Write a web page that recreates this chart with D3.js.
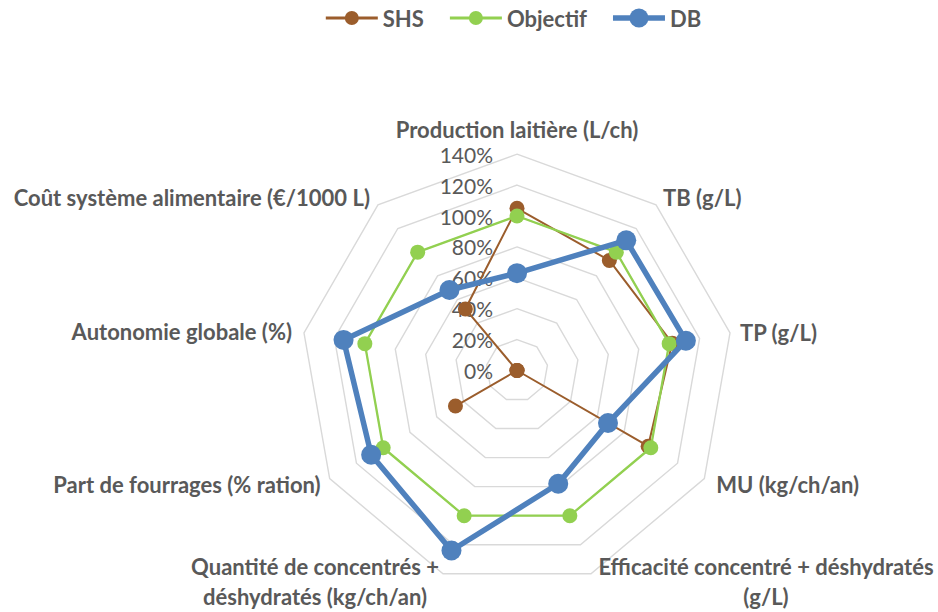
<!DOCTYPE html>
<html>
<head>
<meta charset="utf-8">
<script src="https://cdn.jsdelivr.net/npm/d3@7"></script>
<style>
  html, body { margin: 0; padding: 0; background: #fff; }
  svg { display: block; }
</style>
</head>
<body>
<svg id="chart" width="938" height="612"></svg>
<script>
// ---- data ----
const categories = [
  ["Production laitière (L/ch)"],
  ["TB (g/L)"],
  ["TP (g/L)"],
  ["MU (kg/ch/an)"],
  ["Efficacité concentré + déshydratés", "(g/L)"],
  ["Quantité de concentrés +", "déshydratés (kg/ch/an)"],
  ["Part de fourrages (% ration)"],
  ["Autonomie globale (%)"],
  ["Coût système alimentaire (€/1000 L)"]
];
const seriesNames = ["SHS", "Objectif", "DB"];
const shs      = [105, 93, 102, 98, 0, 0, 46, 0, 52];
const objectif = [100, 100, 100, 100, 100, 100, 100, 100, 100];
const db       = [63, 110, 111, 68, 78, 124, 109, 114, 68];
const tickValues = [0, 20, 40, 60, 80, 100, 120, 140];

// ---- style / layout ----
const colors = ["#9B5D2C", "#92D050", "#4F81BD"];
const lineW = [2, 2.3, 5.5];
const markR = [7.5, 7.5, 10];
const textColor = "#595959";
const fontFam = "Lato, 'Open Sans', sans-serif";
const cx = 517, cy = 370.5;
const rMax = 216.3;

const svg = d3.select("#chart");
const n = categories.length;
const r = d3.scaleLinear().domain([0, 140]).range([0, rMax]);
const ang = d3.scaleLinear().domain([0, n]).range([0, 2 * Math.PI]);
const px = (i, v) => cx + r(v) * Math.sin(ang(i));
const py = (i, v) => cy - r(v) * Math.cos(ang(i));

const g = svg.append("g");

// grid rings
tickValues.filter(t => t > 0).forEach(t => {
  const pts = d3.range(n).map(i => [px(i, t), py(i, t)]);
  g.append("path")
    .attr("d", d3.line()(pts) + "Z")
    .attr("fill", "none")
    .attr("stroke", "#D9D9D9")
    .attr("stroke-width", 1.4);
});

// tick labels
g.selectAll("text.tick").data(tickValues).join("text")
  .attr("class", "tick")
  .attr("x", cx - 24)
  .attr("y", d => cy - r(d))
  .attr("text-anchor", "end")
  .attr("dominant-baseline", "central")
  .attr("font-family", fontFam)
  .attr("font-size", 21)
  .attr("fill", textColor)
  .text(d => d + "%");

// category labels, placed relative to outer vertex
const labelLayout = [
  {anchor: "middle", dx: 0, dy: -25},
  {anchor: "start", dx: 7, dy: -7},
  {anchor: "start", dx: 10, dy: 0},
  {anchor: "start", dx: 12, dy: 6},
  {anchor: "middle", dx: 175, dy: -7},
  {anchor: "middle", dx: -128, dy: -7},
  {anchor: "end", dx: -9, dy: 6},
  {anchor: "end", dx: -12, dy: -1},
  {anchor: "end", dx: -8, dy: -7}
];
categories.forEach((lines, i) => {
  const L = labelLayout[i];
  const t = g.append("text")
    .attr("text-anchor", L.anchor)
    .attr("font-family", fontFam)
    .attr("font-weight", "bold")
    .attr("font-size", 22)
    .attr("fill", textColor);
  lines.forEach((s, k) => {
    t.append("tspan")
      .attr("x", px(i, 140) + L.dx)
      .attr("y", py(i, 140) + L.dy + k * 30)
      .attr("dominant-baseline", "central")
      .text(s);
  });
});

// series
const allSeries = [shs, objectif, db];
allSeries.forEach((vals, s) => {
  const pts = vals.map((v, i) => [px(i, v), py(i, v)]);
  g.append("path")
    .attr("d", d3.line()(pts) + "Z")
    .attr("fill", "none")
    .attr("stroke", colors[s])
    .attr("stroke-width", lineW[s])
    .attr("stroke-linejoin", "round");
  g.selectAll(null).data(pts).join("circle")
    .attr("cx", d => d[0])
    .attr("cy", d => d[1])
    .attr("r", markR[s])
    .attr("fill", colors[s]);
});

// legend
const leg = svg.append("g");
const legY = 18;
let x = 0;
seriesNames.forEach((name, s) => {
  const it = leg.append("g");
  it.append("line").attr("x1", x).attr("x2", x + 52).attr("y1", legY).attr("y2", legY)
    .attr("stroke", colors[s]).attr("stroke-width", s === 2 ? 5.5 : 3);
  it.append("circle").attr("cx", x + 26).attr("cy", legY).attr("r", markR[s] - 0.5)
    .attr("fill", colors[s]);
  const t = it.append("text").attr("x", x + 57).attr("y", legY)
    .attr("dominant-baseline", "central")
    .attr("font-family", fontFam).attr("font-weight", "bold").attr("font-size", 22)
    .attr("fill", textColor).text(name);
  const w = t.node().getComputedTextLength();
  x += 57 + w + 26;
});
const total = x - 26;
leg.attr("transform", `translate(${513.5 - total / 2},0)`);
</script>
</body>
</html>
